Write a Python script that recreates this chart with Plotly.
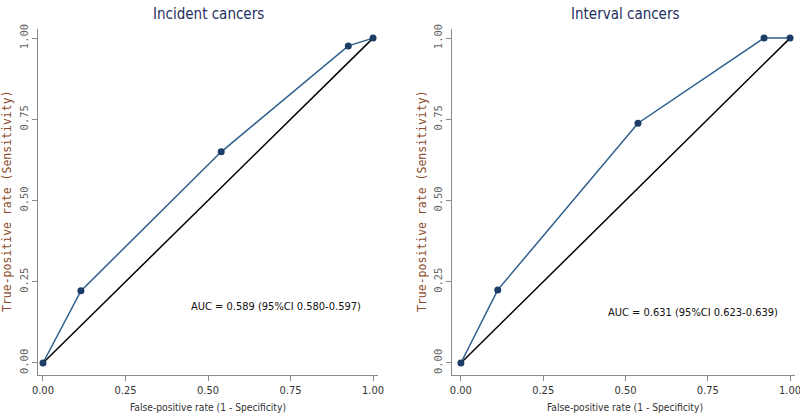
import plotly.graph_objects as go

# Data
fpr_incident = [0.0, 0.115, 0.54, 0.925, 1.0]
tpr_incident = [0.0, 0.222, 0.650, 0.976, 1.0]
fpr_interval = [0.0, 0.112, 0.538, 0.921, 1.0]
tpr_interval = [0.0, 0.225, 0.738, 1.0, 1.0]
ref_line = [0.0, 1.0]
ticks = [0.0, 0.25, 0.5, 0.75, 1.0]
tick_labels = ["0.00", "0.25", "0.50", "0.75", "1.00"]
titles = ["Incident cancers", "Interval cancers"]
auc_texts = ["AUC = 0.589 (95%CI 0.580-0.597)", "AUC = 0.631 (95%CI 0.623-0.639)"]
auc_pos = [(0.442, 0.175), (0.44, 0.154)]
x_title = "False-positive rate (1 - Specificity)"
y_title = "True-positive rate (Sensitivity)"

LINE_BLUE = "#2e5e8c"
MARK_BLUE = "#1d3d66"
NARROW = "DejaVu Sans Condensed"
MONO = "DejaVu Sans Mono"

fig = go.Figure()

panels = [
    (fpr_incident, tpr_incident, "x", "y"),
    (fpr_interval, tpr_interval, "x2", "y2"),
]
for fx, ty, xa, ya in panels:
    fig.add_trace(go.Scatter(x=ref_line, y=ref_line, mode="lines",
                             line=dict(color="black", width=1.5),
                             xaxis=xa, yaxis=ya, showlegend=False, hoverinfo="skip"))
    fig.add_trace(go.Scatter(x=fx, y=ty, mode="lines+markers",
                             line=dict(color=LINE_BLUE, width=1.5),
                             marker=dict(color=MARK_BLUE, size=7),
                             xaxis=xa, yaxis=ya, showlegend=False))

xcommon = dict(tickvals=ticks, ticktext=tick_labels, showgrid=False, zeroline=False,
               showline=True, linecolor="#8a8a8a", linewidth=1, automargin=False,
               ticks="outside", ticklen=5, tickcolor="#8a8a8a", ticklabeloverflow="allow",
               tickfont=dict(family=NARROW, size=11, color="#333333"))
ycommon = dict(tickvals=ticks, ticktext=tick_labels, showgrid=False, zeroline=False,
               showline=True, linecolor="#8a8a8a", linewidth=1, automargin=False,
               ticks="outside", ticklen=5, tickcolor="#8a8a8a", tickangle=-90,
               range=[-0.037, 1.028],
               tickfont=dict(family=MONO, size=10.5, color="#666666"))

fig.update_layout(
    width=800, height=420, autosize=False,
    margin=dict(l=0, r=0, t=0, b=0, pad=0, autoexpand=False),
    paper_bgcolor="white", plot_bgcolor="white",
    xaxis=dict(domain=[38/800, 378/800], range=[-0.015, 1.015], anchor="y", **xcommon),
    yaxis=dict(domain=[1-375/420, 1-29/420], anchor="x", **ycommon),
    xaxis2=dict(domain=[452/800, 795/800], range=[-0.027, 1.015], anchor="y2", **xcommon),
    yaxis2=dict(domain=[1-375/420, 1-29/420], anchor="x2", **ycommon),
)

anns = []
for i, (xa, ya) in enumerate([("x", "y"), ("x2", "y2")]):
    anns.append(dict(text=titles[i], xref=xa, x=0.5, yref="paper", y=1-14/420,
                     showarrow=False, xanchor="center", yanchor="middle",
                     font=dict(family=NARROW, size=15, color="#1f2f5f")))
    anns.append(dict(text=auc_texts[i], xref=xa, x=auc_pos[i][0], yref=ya, y=auc_pos[i][1],
                     showarrow=False, xanchor="left", yanchor="middle",
                     font=dict(family=NARROW, size=11, color="#111111")))
    anns.append(dict(text=x_title, xref=xa, x=0.5, yref="paper", y=1-407/420,
                     showarrow=False, xanchor="center", yanchor="middle",
                     font=dict(family=NARROW, size=10.2, color="#333333")))
for xp in (7/800, 422/800):
    anns.append(dict(text=y_title, xref="paper", x=xp, yref="paper", y=1-201/420,
                     showarrow=False, textangle=-90, xanchor="center", yanchor="middle",
                     font=dict(family=MONO, size=11.5, color="#8a4a2a")))
fig.update_layout(annotations=anns)

fig.write_html("out.html", config={"displayModeBar": False},
               post_script="document.body.style.margin='0';")
